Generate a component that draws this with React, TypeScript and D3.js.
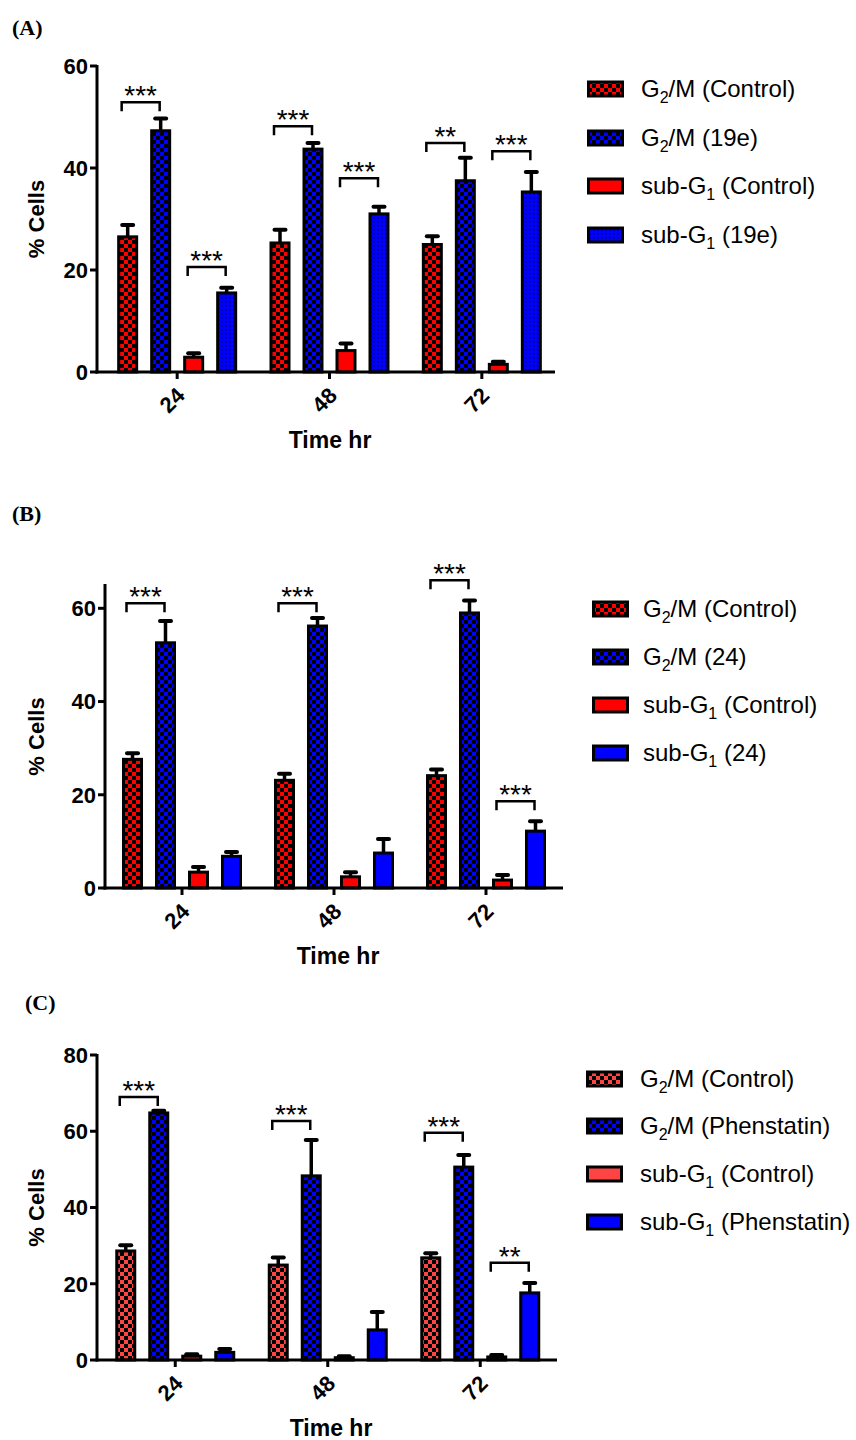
import React from 'react';
import * as d3 from 'd3';

const categories = ['24', '48', '72'];

// Panel A
const aLegend = ['G2/M (Control)', 'G2/M (19e)', 'sub-G1 (Control)', 'sub-G1 (19e)'];
const aG2mControl = [26.5, 25.3, 25.0];
const aG2mControlErr = [2.3, 2.6, 1.6];
const aG2m19e = [47.3, 43.7, 37.5];
const aG2m19eErr = [2.4, 1.2, 4.5];
const aSubControl = [2.9, 4.2, 1.5];
const aSubControlErr = [0.8, 1.4, 0.5];
const aSub19e = [15.5, 31.0, 35.3];
const aSub19eErr = [1.0, 1.4, 3.9];
const aBrackets = [
  { cat: '24', from: 0, to: 1, y: 52.9, label: '***' },
  { cat: '24', from: 2, to: 3, y: 20.6, label: '***' },
  { cat: '48', from: 0, to: 1, y: 48.2, label: '***' },
  { cat: '48', from: 2, to: 3, y: 38.0, label: '***' },
  { cat: '72', from: 0, to: 1, y: 44.9, label: '**' },
  { cat: '72', from: 2, to: 3, y: 43.3, label: '***' },
];

// Panel B
const bLegend = ['G2/M (Control)', 'G2/M (24)', 'sub-G1 (Control)', 'sub-G1 (24)'];
const bG2mControl = [27.6, 23.1, 24.1];
const bG2mControlErr = [1.3, 1.4, 1.3];
const bG2m24 = [52.6, 56.2, 59.0];
const bG2m24Err = [4.7, 1.7, 2.7];
const bSubControl = [3.4, 2.4, 1.7];
const bSubControlErr = [1.1, 1.0, 1.1];
const bSub24 = [6.8, 7.5, 12.2];
const bSub24Err = [0.9, 3.0, 2.1];
const bBrackets = [
  { cat: '24', from: 0, to: 1, y: 61.1, label: '***' },
  { cat: '48', from: 0, to: 1, y: 61.1, label: '***' },
  { cat: '72', from: 0, to: 1, y: 66.0, label: '***' },
  { cat: '72', from: 2, to: 3, y: 18.6, label: '***' },
];

// Panel C
const cLegend = ['G2/M (Control)', 'G2/M (Phenstatin)', 'sub-G1 (Control)', 'sub-G1 (Phenstatin)'];
const cG2mControl = [28.6, 24.9, 26.8];
const cG2mControlErr = [1.5, 2.0, 1.2];
const cG2mPhen = [64.8, 48.3, 50.6];
const cG2mPhenErr = [0.6, 9.4, 3.2];
const cSubControl = [1.0, 0.6, 0.8];
const cSubControlErr = [0.5, 0.4, 0.5];
const cSubPhen = [2.0, 7.9, 17.6];
const cSubPhenErr = [0.9, 4.7, 2.6];
const cBrackets = [
  { cat: '24', from: 0, to: 1, y: 69.0, label: '***' },
  { cat: '48', from: 0, to: 1, y: 62.7, label: '***' },
  { cat: '72', from: 0, to: 1, y: 59.6, label: '***' },
  { cat: '72', from: 2, to: 3, y: 25.5, label: '**' },
];

const SANS = '"Liberation Sans", Arial, sans-serif';
const SERIF = '"Liberation Serif", "Times New Roman", serif';

type Fill = 'checker' | 'dots' | 'solid';

interface PanelCfg {
  id: string;
  title: string;
  titleX: number;
  titleY: number;
  axisX: number;
  axisEnd: number;
  y0: number;
  yTop: number;
  max: number;
  ticks: number[];
  xRange: [number, number];
  series: { values: number[]; errs: number[]; color: string; fill: Fill }[];
  legend: string[];
  legendX: number;
  legendTextX: number;
  legendRows: number[];
  brackets: { cat: string; from: number; to: number; y: number; label: string }[];
}

const panels: PanelCfg[] = [
  {
    id: 'a', title: '(A)', titleX: 12, titleY: 35,
    axisX: 97, axisEnd: 555, y0: 372, yTop: 66, max: 60, ticks: [0, 20, 40, 60],
    xRange: [101, 558],
    series: [
      { values: aG2mControl, errs: aG2mControlErr, color: '#ff0000', fill: 'checker' },
      { values: aG2m19e, errs: aG2m19eErr, color: '#0000ff', fill: 'checker' },
      { values: aSubControl, errs: aSubControlErr, color: '#ff0000', fill: 'solid' },
      { values: aSub19e, errs: aSub19eErr, color: '#0000ff', fill: 'dots' },
    ],
    legend: aLegend, legendX: 587, legendTextX: 641, legendRows: [89, 138, 186, 235],
    brackets: aBrackets,
  },
  {
    id: 'b', title: '(B)', titleX: 12, titleY: 521,
    axisX: 105, axisEnd: 563, y0: 888, yTop: 585, max: 65, ticks: [0, 20, 40, 60],
    xRange: [106, 562],
    series: [
      { values: bG2mControl, errs: bG2mControlErr, color: '#ff0000', fill: 'checker' },
      { values: bG2m24, errs: bG2m24Err, color: '#0000ff', fill: 'checker' },
      { values: bSubControl, errs: bSubControlErr, color: '#ff0000', fill: 'solid' },
      { values: bSub24, errs: bSub24Err, color: '#0000ff', fill: 'solid' },
    ],
    legend: bLegend, legendX: 592, legendTextX: 643, legendRows: [609, 657, 705, 753],
    brackets: bBrackets,
  },
  {
    id: 'c', title: '(C)', titleX: 25, titleY: 1010,
    axisX: 97, axisEnd: 557, y0: 1360, yTop: 1055, max: 80, ticks: [0, 20, 40, 60, 80],
    xRange: [99, 556.5],
    series: [
      { values: cG2mControl, errs: cG2mControlErr, color: '#ff4444', fill: 'checker' },
      { values: cG2mPhen, errs: cG2mPhenErr, color: '#0000ff', fill: 'checker' },
      { values: cSubControl, errs: cSubControlErr, color: '#ff4444', fill: 'solid' },
      { values: cSubPhen, errs: cSubPhenErr, color: '#0000ff', fill: 'solid' },
    ],
    legend: cLegend, legendX: 586, legendTextX: 640, legendRows: [1079, 1126, 1174, 1222],
    brackets: cBrackets,
  },
];

function LegendLabel({ text, x, y }: { text: string; x: number; y: number }) {
  const m = text.match(/^(.*?G)(\d)(.*)$/);
  return (
    <text x={x} y={y} fontFamily={SANS} fontSize={24} fill="#000">
      {m ? (
        <>
          <tspan>{m[1]}</tspan>
          <tspan fontSize={16} dy={6}>{m[2]}</tspan>
          <tspan dy={-6}>{m[3]}</tspan>
        </>
      ) : text}
    </text>
  );
}

function Panel({ cfg }: { cfg: PanelCfg }) {
  const y = d3.scaleLinear().domain([0, cfg.max]).range([cfg.y0, cfg.yTop]);
  const x = d3.scaleBand<string>().domain(categories).range(cfg.xRange).padding(0);
  const inner = d3.scaleBand<number>().domain([0, 1, 2, 3]).range([-60, 60])
    .paddingInner(12 / 33).paddingOuter(0);
  const bw = inner.bandwidth();
  const cx = (cat: string) => (x(cat) ?? 0) + x.bandwidth() / 2;
  const fillId = (i: number) => `${cfg.id}-fill-${i}`;

  return (
    <g>
      <defs>
        {cfg.series.map((s, i) => {
          if (s.fill === 'checker') {
            return (
              <pattern key={i} id={fillId(i)} width={8} height={8} patternUnits="userSpaceOnUse">
                <rect width={8} height={8} fill="#000" />
                <rect x={0} y={0} width={4} height={4} fill={s.color} />
                <rect x={4} y={4} width={4} height={4} fill={s.color} />
              </pattern>
            );
          }
          if (s.fill === 'dots') {
            return (
              <pattern key={i} id={fillId(i)} width={4} height={4} patternUnits="userSpaceOnUse">
                <rect width={4} height={4} fill={s.color} />
                <rect x={1} y={1} width={1.6} height={1.6} fill="#000" opacity={0.75} />
              </pattern>
            );
          }
          return null;
        })}
      </defs>

      <text x={cfg.titleX} y={cfg.titleY} fontFamily={SERIF} fontWeight="bold" fontSize={22}>
        {cfg.title}
      </text>

      {/* bars + error bars */}
      {cfg.series.map((s, i) =>
        categories.map((cat, j) => {
          const bx = cx(cat) + (inner(i) ?? 0);
          const top = y(s.values[j]);
          const et = y(s.values[j] + s.errs[j]);
          const mid = bx + bw / 2;
          const fill = s.fill === 'solid' ? s.color : `url(#${fillId(i)})`;
          return (
            <g key={`${i}-${j}`}>
              <line x1={mid} x2={mid} y1={top} y2={et} stroke="#000" strokeWidth={3.5} />
              <line x1={mid - 5.5} x2={mid + 5.5} y1={et} y2={et} stroke="#000" strokeWidth={4} strokeLinecap="round" />
              <rect x={bx + 1.5} y={top} width={bw - 3} height={cfg.y0 - top}
                fill={fill} stroke="#000" strokeWidth={3} />
            </g>
          );
        })
      )}

      {/* y axis */}
      <line x1={cfg.axisX} x2={cfg.axisX} y1={cfg.yTop - 1} y2={cfg.y0 + 1.5} stroke="#000" strokeWidth={3} />
      {cfg.ticks.map(t => (
        <g key={t}>
          <line x1={cfg.axisX - 7} x2={cfg.axisX} y1={y(t)} y2={y(t)} stroke="#000" strokeWidth={3} />
          <text x={cfg.axisX - 9} y={y(t)} dy="0.36em" textAnchor="end"
            fontFamily={SANS} fontWeight="bold" fontSize={22}>{t}</text>
        </g>
      ))}
      <text transform={`translate(44,${(cfg.y0 + cfg.yTop) / 2}) rotate(-90)`} textAnchor="middle"
        fontFamily={SANS} fontWeight="bold" fontSize={22}>% Cells</text>

      {/* x axis */}
      <line x1={cfg.axisX - 1.5} x2={cfg.axisEnd} y1={cfg.y0} y2={cfg.y0} stroke="#000" strokeWidth={3} />
      {categories.map(cat => (
        <g key={cat}>
          <line x1={cx(cat)} x2={cx(cat)} y1={cfg.y0} y2={cfg.y0 + 7} stroke="#000" strokeWidth={3} />
          <text transform={`translate(${cx(cat) - 2},${cfg.y0 + 14}) rotate(-45)`} textAnchor="end"
            dy="0.7em" fontFamily={SANS} fontWeight="bold" fontSize={22}>{cat}</text>
        </g>
      ))}
      <text x={(cfg.axisX + cfg.axisEnd) / 2 + 4} y={cfg.y0 + 76} textAnchor="middle"
        fontFamily={SANS} fontWeight="bold" fontSize={23}>Time hr</text>

      {/* significance brackets */}
      {cfg.brackets.map((b, k) => {
        const x1 = cx(b.cat) + (inner(b.from) ?? 0) + bw / 2 - 6;
        const x2 = cx(b.cat) + (inner(b.to) ?? 0) + bw / 2 - 1;
        const by = y(b.y);
        return (
          <g key={k}>
            <path d={`M${x1},${by + 9}V${by}H${x2}V${by + 9}`} fill="none" stroke="#000" strokeWidth={2.5} />
            <text x={(x1 + x2) / 2} y={by + 3} textAnchor="middle" fontFamily={SANS} fontSize={28}>
              {b.label}
            </text>
          </g>
        );
      })}

      {/* legend */}
      {cfg.legend.map((lab, i) => {
        const s = cfg.series[i];
        const fill = s.fill === 'solid' ? s.color : `url(#${fillId(i)})`;
        const ry = cfg.legendRows[i];
        return (
          <g key={lab}>
            <rect x={cfg.legendX + 1.5} y={ry - 7} width={34} height={14} fill={fill} stroke="#000" strokeWidth={3} />
            <LegendLabel text={lab} x={cfg.legendTextX} y={ry + 8} />
          </g>
        );
      })}
    </g>
  );
}

export default function App() {
  return (
    <svg width={856} height={1440} style={{ position: 'absolute', left: 0, top: 0, background: '#fff' }}>
      <rect width={856} height={1440} fill="#fff" />
      {panels.map(p => <Panel key={p.id} cfg={p} />)}
    </svg>
  );
}
